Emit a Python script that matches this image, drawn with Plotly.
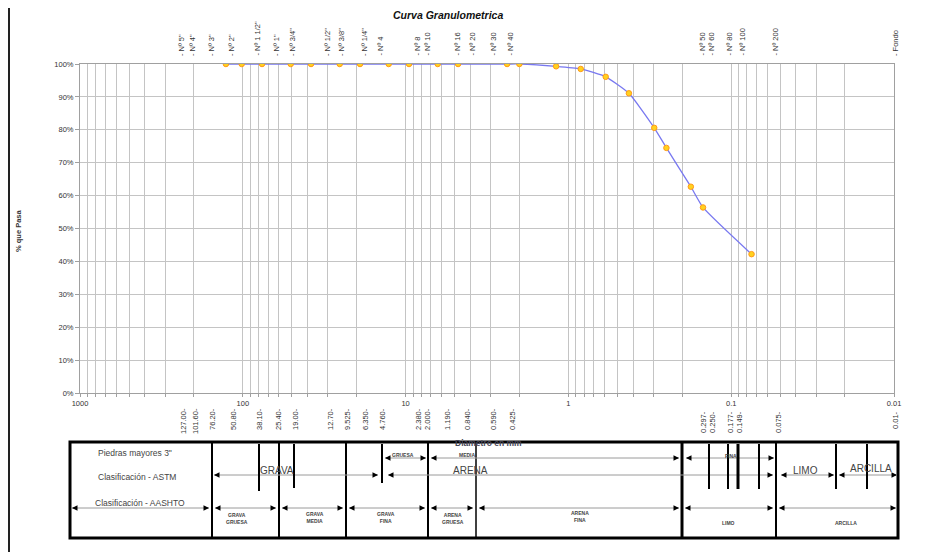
import plotly.graph_objects as go

# ---------------- data ----------------
sieve_names = ['Nº 5"', 'Nº 4"', 'Nº 3"', 'Nº 2"', 'Nº 1 1/2"', 'Nº 1"', 'Nº 3/4"', 'Nº 1/2"',
               'Nº 3/8"', 'Nº 1/4"', 'Nº 4', 'Nº 8', 'Nº 10', 'Nº 16', 'Nº 20', 'Nº 30',
               'Nº 40', 'Nº 50', 'Nº 60', 'Nº 80', 'Nº 100', 'Nº 200']
diameters = [127.0, 101.6, 76.2, 50.8, 38.1, 25.4, 19.05, 12.7, 9.525, 6.35, 4.76,
             2.38, 2.0, 1.19, 0.84, 0.59, 0.425, 0.297, 0.25, 0.177, 0.149, 0.075]
pct_pass = [100, 100, 100, 100, 100, 100, 100, 100, 100, 100, 100, 100, 100,
            99.3, 98.5, 96.1, 91.1, 80.6, 74.5, 62.7, 56.4, 42.2]

top_labels = ['- ' + s for s in sieve_names] + ['- Fondo']
bottom_labels = ['127.00', '101.60', '76.20', '50.80', '38.10', '25.40', '19.00', '12.70',
                 '9.525', '6.350', '4.760', '2.380', '2.000', '1.190', '0.840', '0.590',
                 '0.425', '0.297', '0.250', '0.177', '0.149', '0.075', '0.01']

# ---------------- layout helpers (page pixel -> paper) ----------------
OFF = 8                      # default body margin of the html page
W, H = 948 - OFF, 552 - OFF
L, R, T, B = 80, 894, 64, 393  # plot area in page pixels
def px(x):
    return (x - L) / (R - L)
def py(y):
    return (B - y) / (B - T)

top_label_px = [182, 193, 212, 232, 257, 277, 293, 328, 342, 365, 380, 417, 427, 457,
                472, 493, 510, 702, 711, 729, 742, 775, 896]
bottom_label_px = [183, 195, 212, 233, 259, 278, 295, 330, 347, 365, 382, 418, 427, 447,
                   467, 493, 512, 703, 712, 730, 739, 778, 895]

FONT = "Liberation Sans, Arial, sans-serif"
TXT = "#333333"

fig = go.Figure()
fig.add_trace(go.Scatter(
    x=diameters, y=[v / 100 for v in pct_pass], mode="lines+markers",
    line=dict(color="#7878f0", width=1.3, shape="spline", smoothing=0.5),
    marker=dict(size=5.5, color="#ffd21f", line=dict(color="#ff9a1a", width=1)),
    hoverinfo="x+y", showlegend=False))

tickvals, ticktext = [], []
for k in range(-2, 3):
    for m in range(1, 10):
        tickvals.append(m * 10 ** k)
        if m == 1:
            ticktext.append({-2: "0.01", -1: "0.1", 0: "1", 1: "10", 2: "100"}[k])
        else:
            ticktext.append("")
tickvals.append(1000)
ticktext.append("1000")

annotations = []
shapes = []

def txt(s, x, y, size, bold=False, color="#444", angle=0):
    annotations.append(dict(text=("<b>%s</b>" % s) if bold else s, xref="paper", yref="paper",
                            x=px(x), y=py(y), xanchor="center", yanchor="middle",
                            showarrow=False, align="center", textangle=angle,
                            font=dict(family=FONT, size=size, color=color)))

# title and y title
txt("<i>Curva Granulometrica</i>", 448, 15, 10.5, True, "#111")
txt("% que Pasa", 18, 230, 7.5, True, TXT, -90)

# top sieve labels
for t, p in zip(top_labels, top_label_px):
    annotations.append(dict(text=t, xref="paper", yref="paper", x=px(p), y=py(58),
                            xanchor="center", yanchor="bottom", showarrow=False, textangle=-90,
                            font=dict(family=FONT, size=7.5, color=TXT)))
# bottom diameter labels
for t, p in zip(bottom_labels, bottom_label_px):
    ytop = 409 if p > 700 else 406
    annotations.append(dict(text=t + "-", xref="paper", yref="paper", x=px(p), y=py(ytop),
                            xanchor="center", yanchor="top", showarrow=False, textangle=-90,
                            font=dict(family=FONT, size=7.5, color=TXT)))

# Diametro en mm (partly hidden behind table top border)
txt("Diametro en mm", 488, 443, 8.5, True, "#445")

# left page border
shapes.append(dict(type="line", xref="paper", yref="paper", x0=px(9), x1=px(9), y0=py(8), y1=py(552),
                   line=dict(color="#222", width=2)))

# ---------------- table ----------------
TX0, TX1, TY0, TY1 = 70, 898, 442, 538
shapes.append(dict(type="rect", xref="paper", yref="paper", x0=px(TX0), x1=px(TX1), y0=py(TY0), y1=py(TY1),
                   line=dict(color="#000", width=3), fillcolor="rgba(255,255,255,1)", layer="above"))
for xd, w in [(212, 2), (279, 2), (346, 2), (428, 2), (476, 1.5), (682, 3), (776, 2)]:
    shapes.append(dict(type="line", xref="paper", yref="paper", x0=px(xd), x1=px(xd), y0=py(TY0), y1=py(TY1),
                       line=dict(color="#000", width=w)))

def seg(x0, x1, y):
    shapes.append(dict(type="line", xref="paper", yref="paper", x0=px(x0), x1=px(x1), y0=py(y), y1=py(y),
                       line=dict(color="#9a9a9a", width=1)))
    annotations.append(dict(text="", xref="paper", yref="paper", x=px(x0), y=py(y), ax=6, ay=0,
                            showarrow=True, arrowhead=2, arrowsize=1.1, arrowwidth=1, arrowcolor="#000"))
    annotations.append(dict(text="", xref="paper", yref="paper", x=px(x1), y=py(y), ax=-6, ay=0,
                            showarrow=True, arrowhead=2, arrowsize=1.1, arrowwidth=1, arrowcolor="#000"))

# row 1 (sand subdivisions)
seg(385, 426, 458)
seg(431, 679, 458)
seg(686, 774, 458)
# row 2 (ASTM)
seg(214, 378, 475)
seg(388, 773, 475)
seg(781, 834, 475)
seg(839, 897, 475)
# row 3 (AASHTO)
for a, b in [(72, 209), (215, 276), (282, 343), (349, 425), (431, 473), (479, 679), (685, 773), (779, 896)]:
    seg(a, b, 508)

# short vertical markers
for xm, w, ye in [(259, 2, 491), (294, 2, 488), (382, 2, 483), (709, 2, 489), (728, 2, 489),
                  (738, 3, 489), (759, 2, 489), (836, 2, 489), (867, 2, 489)]:
    shapes.append(dict(type="line", xref="paper", yref="paper", x0=px(xm), x1=px(xm), y0=py(444), y1=py(ye),
                       line=dict(color="#000", width=w)))

txt('Piedras mayores 3"', 135, 453, 8.5)
txt('Clasificación - ASTM', 137, 477, 8.5)
txt('Clasificación - AASHTO', 140, 503, 8.5)
txt('GRAVA', 277, 470, 10)
txt('ARENA', 470, 470, 10)
txt('LIMO', 805, 470, 10)
txt('ARCILLA', 871, 468, 10)
txt('GRUESA', 403, 455, 5, True)
txt('MEDIA', 467, 455, 5, True)
txt('FINA', 731, 456, 5, True)
txt('GRAVA<br>GRUESA', 237, 518, 5, True)
txt('GRAVA<br>MEDIA', 315, 517, 5, True)
txt('GRAVA<br>FINA', 386, 517, 5, True)
txt('ARENA<br>GRUESA', 453, 518, 5, True)
txt('ARENA<br>FINA', 580, 516, 5, True)
txt('LIMO', 728, 523, 5, True)
txt('ARCILLA', 846, 523, 5, True)

fig.update_layout(
    width=W, height=H,
    margin=dict(l=L - OFF, r=W - (R - OFF), t=T - OFF, b=H - (B - OFF)),
    paper_bgcolor="white", plot_bgcolor="white",
    font=dict(family=FONT, size=7.5, color=TXT),
    annotations=annotations, shapes=shapes, showlegend=False,
    xaxis=dict(type="log", range=[3, -2], tickvals=tickvals, ticktext=ticktext,
               showgrid=True, gridcolor="#c4c4c4", gridwidth=1,
               showline=True, linecolor="#a0a0a0", linewidth=1, mirror=True,
               ticks="outside", ticklen=3, tickcolor="#a0a0a0",
               tickfont=dict(family=FONT, size=7.5, color=TXT), zeroline=False),
    yaxis=dict(range=[0, 1], tick0=0, dtick=0.1, tickformat=".0%",
               showgrid=True, gridcolor="#c4c4c4", gridwidth=1,
               showline=True, linecolor="#a0a0a0", linewidth=1, mirror=True,
               ticks="outside", ticklen=4, tickcolor="#a0a0a0",
               tickfont=dict(family=FONT, size=7.5, color=TXT), zeroline=False),
)

fig.write_html("out.html")
